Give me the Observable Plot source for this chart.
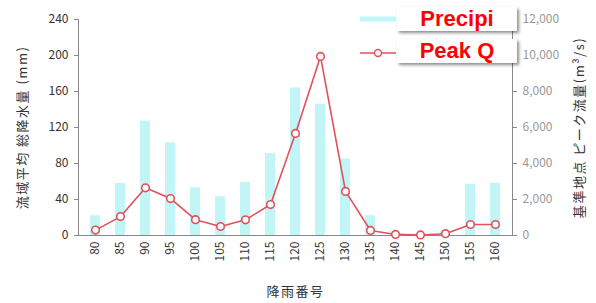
<!DOCTYPE html>
<html><head><meta charset="utf-8">
<script src="https://cdn.jsdelivr.net/npm/d3@7"></script>
<script src="https://cdn.jsdelivr.net/npm/@observablehq/plot@0.6"></script>
<style>
html,body{margin:0;padding:0;background:#fff;}
#wrap{position:relative;width:596px;height:303px;overflow:hidden;font-family:"Noto Sans CJK JP","Noto Sans",sans-serif;}
.box{position:absolute;background:#fff;box-shadow:2px 2px 3px rgba(0,0,0,0.45);color:#f00;font-family:"Liberation Sans",Arial,sans-serif;font-weight:bold;font-size:22px;line-height:24px;text-align:center;}
#wrap svg [aria-label="y-axis label"] text{font-size:13px;letter-spacing:1.5px;fill:#333;}
#wrap svg [aria-label="x-axis label"] text{font-size:13px;letter-spacing:1.5px;fill:#333;}
</style></head>
<body><div id="wrap"></div>
<script>
const categories = [80,85,90,95,100,105,110,115,120,125,130,135,140,145,150,155,160];
const precip = [22,58,127,103,53,43,59,91,164,146,85,22,4,2,5,57,58];
const peakQ = [300,1050,2650,2050,880,500,870,1720,5670,9950,2450,280,60,30,100,610,610];
const leftTicks = [0,40,80,120,160,200,240];
const rightTicks = [0,2000,4000,6000,8000,10000,12000];
const seriesNames = ["Precipi","Peak Q"];
const ratio = 12000/240;

const data = categories.map((c,i)=>({c, p: precip[i], q: peakQ[i]}));
const lineColor = "#e2505c";
const barColor = "#c2f6f6";

const chart = Plot.plot({
  width: 596, height: 303,
  marginLeft: 78, marginRight: 84, marginTop: 19, marginBottom: 68,
  style: {fontFamily: '"Noto Sans CJK JP","Noto Sans",sans-serif', fontSize: "12px", background: "#fff"},
  x: {domain: categories, paddingInner: 0.62, paddingOuter: 0.31},
  y: {domain: [0, 240]},
  marks: [
    Plot.barY(data, {x: "c", y: "p", fill: barColor}),
    Plot.frame({anchor: "left", stroke: "#888"}),
    Plot.frame({anchor: "right", stroke: "#888"}),
    Plot.frame({anchor: "bottom", stroke: "#888"}),
    Plot.axisY(leftTicks, {anchor: "left", tickSize: 4, tickPadding: 6, fill: "#333", stroke: "#888",
      label: "流域平均 総降水量 (mm)", labelAnchor: "center", labelArrow: "none", labelOffset: 61}),
    Plot.axisY(rightTicks.map(v => v/ratio), {anchor: "right", tickSize: 4, tickPadding: 6, fill: "#999", stroke: "#888",
      tickFormat: d => d3.format(",")(d*ratio),
      label: "基準地点 ピーク流量(m³/s)", labelAnchor: "center", labelArrow: "none", labelOffset: 71}),
    Plot.axisX({anchor: "bottom", tickSize: 0, tickPadding: 6, tickRotate: -90, fill: "#333",
      label: "降雨番号", labelAnchor: "center", labelArrow: "none", labelOffset: 60}),
    Plot.line(data, {x: "c", y: d => d.q/ratio, stroke: lineColor, strokeWidth: 1.6}),
    Plot.dot(data, {x: "c", y: d => d.q/ratio, r: 3.8, stroke: lineColor, strokeWidth: 1.6, fill: "#fff"})
  ]
});
const wrap = document.getElementById("wrap");
wrap.appendChild(chart);

// legend
const leg = document.createElement("div");
leg.style.cssText = "position:absolute;left:358px;top:8px;";
leg.innerHTML = `<svg width="40" height="60">
<line x1="2" x2="38" y1="11" y2="11" stroke="${barColor}" stroke-width="5"/>
<line x1="2" x2="38" y1="45" y2="45" stroke="${lineColor}" stroke-width="1.4"/>
<circle cx="20" cy="45" r="3.5" fill="#fff" stroke="${lineColor}" stroke-width="1.4"/></svg>`;
wrap.appendChild(leg);
seriesNames.forEach((n,i)=>{
  const b = document.createElement("div");
  b.className = "box";
  b.style.left = "397px"; b.style.top = (7 + i*32) + "px";
  b.style.width = "120px"; b.style.height = "24px";
  b.textContent = n;
  wrap.appendChild(b);
});
</script></body></html>
